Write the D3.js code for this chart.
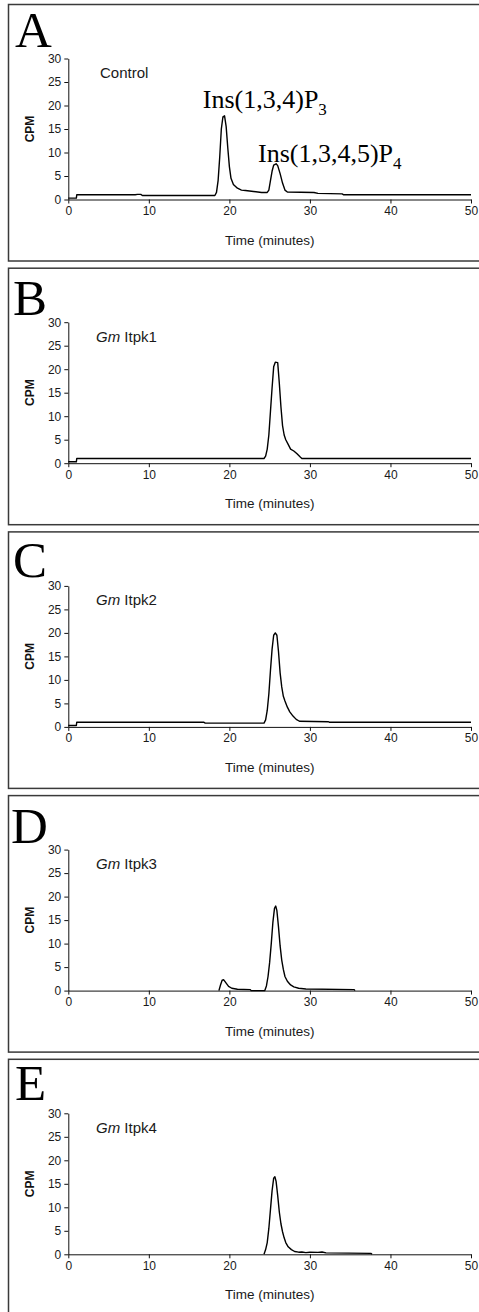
<!DOCTYPE html>
<html>
<head>
<meta charset="utf-8">
<script src="https://cdn.jsdelivr.net/npm/d3@7"></script>
<style>
  body { margin: 0; background: #fff; }
  svg { display: block; }
</style>
</head>
<body>
<div id="chart"></div>
<script>
// traces: [time (minutes), CPM]
var controlTrace = [[0,0.3],[1,0.3],[1.05,1.0],[8.3,1.0],[8.6,1.1],[9.0,1.1],[9.2,0.85],[18.2,0.85],[18.4,1.5],[18.6,4],
  [18.8,9],[19.0,15],[19.2,17.6],[19.4,17.8],[19.6,15.5],[19.8,11],[20.0,7],[20.2,4.5],[20.5,3.2],[21.0,2.4],
  [21.5,2.0],[22.0,1.9],[23.0,1.7],[24.0,1.5],[24.7,1.5],[24.9,2],[25.1,4],[25.3,6],[25.5,7.3],[25.8,7.6],
  [26.0,7.2],[26.3,5.5],[26.6,3.5],[26.9,2.0],[27.2,1.6],[30.5,1.5],[31,1.3],[34,1.2],[34.2,1.0],[50,1.0]];

var itpk1Trace = [[0,0.3],[1,0.3],[1.05,1.0],[24.3,1.0],[24.5,1.5],[24.7,3],[24.9,6],[25.1,11],[25.3,16],[25.5,20.5],
  [25.7,21.5],[26.0,21.4],[26.2,17],[26.4,12],[26.6,8],[26.8,6],[27.0,5],[27.3,4],[27.6,3],[28.0,2.6],
  [28.4,2.0],[28.8,1.3],[29.0,1.0],[50,1.0]];

var itpk2Trace = [[0,0.3],[1,0.3],[1.05,1.0],[16.8,1.0],[17,0.8],[24.3,0.8],[24.5,1.5],[24.7,3.5],[24.9,7],[25.1,12],
  [25.3,16.5],[25.5,19.5],[25.7,20],[25.9,19.5],[26.1,16],[26.3,11.5],[26.5,8.5],[26.7,6.5],[26.9,5.5],[27.2,4.2],
  [27.5,3.2],[27.9,2.3],[28.3,1.6],[28.7,1.2],[32.3,1.1],[32.4,1.0],[50,1.0]];

var itpk3Trace = [[18.7,0],[18.9,1.2],[19.1,2.2],[19.3,2.3],[19.6,1.6],[19.9,0.9],[20.3,0.5],[21,0.3],[22.6,0.2],[22.7,0],
  [24.4,0],[24.6,1],[24.8,3],[25.0,6],[25.2,10],[25.4,14.5],[25.6,17.5],[25.75,18],[25.9,17],[26.1,13.5],
  [26.3,9.5],[26.5,6.5],[26.7,4.5],[26.9,3],[27.2,2],[27.6,1.2],[28.0,0.8],[28.6,0.5],[29.5,0.35],[35.5,0.2],[35.6,0]];

var itpk4Trace = [[24.3,0],[24.5,1],[24.7,2.5],[24.9,5.5],[25.1,9.5],[25.3,13.5],[25.5,16.2],[25.65,16.5],[25.8,15.5],[26.0,12.5],
  [26.2,9],[26.4,6.5],[26.6,4.8],[26.8,3.5],[27.0,2.5],[27.3,1.6],[27.7,1.0],[28.1,0.6],[28.6,0.45],[29,0.5],
  [29.5,0.35],[30,0.45],[31,0.4],[31.5,0.5],[32,0.3],[37.6,0.2],[37.7,0]];

var panelLetters = ["A", "B", "C", "D", "E"];
var panelItalic = ["", "Gm", "Gm", "Gm", "Gm"];
var panelNames = ["Control", " Itpk1", " Itpk2", " Itpk3", " Itpk4"];
var traces = [controlTrace, itpk1Trace, itpk2Trace, itpk3Trace, itpk4Trace];

var timeTicks = [0, 10, 20, 30, 40, 50];
var cpmTicks = [0, 5, 10, 15, 20, 25, 30];

// peak names in panel A, anchored at (time, CPM)
var peakNames = ["Ins(1,3,4)P", "Ins(1,3,4,5)P"];
var peakSubs = ["3", "4"];
var peakTime = [16.7, 23.55];
var peakCpm = [19.4, 7.9];

// small per-panel nudges of the big letters (x, baseline)
var letterPos = [[15, 42], [13, 47], [13, 45], [11, 47], [15, 41]];

var W = 479, H = 1312;
var pitch = 263.7, boxH = 256.5;

var svg = d3.select("#chart").append("svg")
            .attr("width", W)
            .attr("height", H);

var x = d3.scaleLinear().domain([0, 50]).range([68.3, 471]);
var y = d3.scaleLinear().domain([0, 30]).range([195, 54]);

var line = d3.line()
             .x(function(d) { return x(d[0]); })
             .y(function(d) { return y(d[1]); });

traces.forEach(function(trace, i) {
  var g = svg.append("g")
             .attr("transform", "translate(0," + (4.5 + i * pitch) + ")");

  // frame
  g.append("rect")
   .attr("x", 8.5).attr("y", 0)
   .attr("width", 500).attr("height", boxH)
   .attr("fill", "none")
   .attr("stroke", "#3a3a3a")
   .attr("stroke-width", 1.5);

  g.append("text")
   .attr("x", letterPos[i][0]).attr("y", letterPos[i][1])
   .attr("font-family", "'Liberation Serif', 'Times New Roman', serif")
   .attr("font-size", 51)
   .attr("fill", "#000")
   .text(panelLetters[i]);

  // axes
  var xa = g.append("g")
            .attr("transform", "translate(0," + y(0) + ")")
            .call(d3.axisBottom(x).tickValues(timeTicks).tickSize(4).tickSizeOuter(0).tickPadding(3));
  var ya = g.append("g")
            .attr("transform", "translate(" + x(0) + ",0)")
            .call(d3.axisLeft(y).tickValues(cpmTicks).tickSize(4).tickSizeOuter(0).tickPadding(3));

  [xa, ya].forEach(function(a) {
    a.selectAll("path, line").attr("stroke", "#111").attr("stroke-width", 1);
    a.selectAll("text")
     .attr("font-family", "'Liberation Sans', Arial, sans-serif")
     .attr("font-size", 12)
     .attr("fill", "#1a1a1a");
  });

  g.append("text")
   .attr("x", (x(0) + x(50)) / 2).attr("y", y(0) + 45)
   .attr("text-anchor", "middle")
   .attr("font-family", "'Liberation Sans', Arial, sans-serif")
   .attr("font-size", 13.5)
   .attr("fill", "#1a1a1a")
   .text("Time (minutes)");

  g.append("text")
   .attr("transform", "translate(34," + (y(0) + y(30)) / 2 + ") rotate(-90)")
   .attr("text-anchor", "middle")
   .attr("font-family", "'Liberation Sans', Arial, sans-serif")
   .attr("font-weight", "bold")
   .attr("font-size", 12)
   .attr("fill", "#111")
   .text("CPM");

  // sample name
  var lab = g.append("text")
             .attr("x", i === 0 ? 100 : 96).attr("y", 73.5)
             .attr("font-family", "'Liberation Sans', Arial, sans-serif")
             .attr("font-size", 15)
             .attr("fill", "#1a1a1a");
  if (panelItalic[i]) lab.append("tspan").attr("font-style", "italic").text(panelItalic[i]);
  lab.append("tspan").text(panelNames[i]);

  g.append("path")
   .datum(trace)
   .attr("d", line)
   .attr("fill", "none")
   .attr("stroke", "#000")
   .attr("stroke-width", 1.4)
   .attr("stroke-linejoin", "round");

  if (i === 0) {
    peakNames.forEach(function(nm, k) {
      var t = g.append("text")
               .attr("x", x(peakTime[k])).attr("y", y(peakCpm[k]))
               .attr("font-family", "'Liberation Serif', 'Times New Roman', serif")
               .attr("font-size", 26)
               .attr("fill", "#000");
      t.append("tspan").text(nm);
      t.append("tspan").attr("font-size", 17).attr("dy", 7).text(peakSubs[k]);
    });
  }
});
</script>
</body>
</html>
